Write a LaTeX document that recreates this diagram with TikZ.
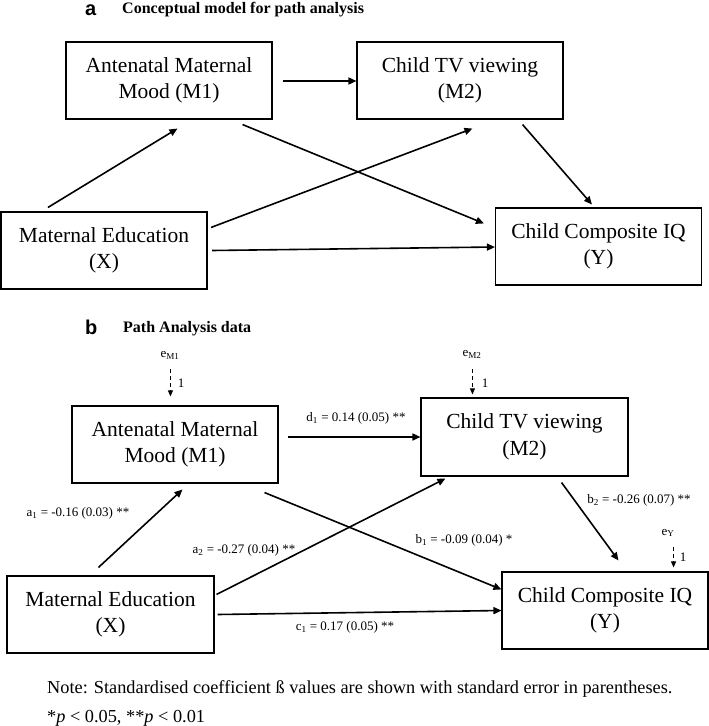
\documentclass[tikz,border=0pt]{standalone}
\usepackage{fontspec}
\setmainfont{Liberation Serif}
\newfontfamily\headsans{Liberation Sans}
\usetikzlibrary{arrows.meta,calc}
\tikzset{
  box/.style={draw, line width=1.1pt, minimum width=206pt, minimum height=77pt, inner sep=0pt, align=center, font=\fontsize{21.5}{26.5}\selectfont},
  conn/.style={line width=1.6pt, -{Triangle[length=8pt,width=7pt]}},
  errarrow/.style={line width=0.9pt, dash pattern=on 4pt off 3pt, -{Triangle[length=6pt,width=5pt]}},
  lbl/.style={font=\fontsize{13}{15}\selectfont, inner sep=0pt},
  panellet/.style={font=\headsans\bfseries\fontsize{20}{22}\selectfont, inner sep=0pt},
  paneltitle/.style={font=\bfseries\fontsize{16}{18}\selectfont, inner sep=0pt},
  notetext/.style={font=\fontsize{18.3}{21}\selectfont, inner sep=0pt, anchor=west}
}
\begin{document}
\begin{tikzpicture}[x=1pt,y=-1pt]
\useasboundingbox (0,0) rectangle (709,726);
% ---------- panel a ----------
\node[panellet, anchor=base west] (la) at (85,15.5) {a};
\node[paneltitle, anchor=base west] (ta) at (122,13.5) {Conceptual model for path analysis};
\node[box] (Ma) at (169,80.5) {Antenatal Maternal\\Mood (M1)};
\node[box] (Ta) at (460,80.5) {Child TV viewing\\(M2)};
\node[box] (Xa) at (104,250.5) {Maternal Education\\(X)};
\node[box] (Ya) at (598.5,246.5) {Child Composite IQ\\(Y)};
\draw[conn] ($(Ma.east)+(10,0.5)$) -- ($(Ta.west)+(0,0.5)$);
\draw[conn] ($(Xa.north west)+(47.5,-4)$) -- ($(Ma.south west)+(112,9)$);
\draw[conn] ($(Ma.south east)+(-30,5)$) -- ($(Ya.north west)+(-11,16)$);
\draw[conn] ($(Xa.north east)+(3.5,16)$) -- ($(Ta.south west)+(116,9)$);
\draw[conn] ($(Ta.south east)+(-41,5)$) -- ($(Ya.north west)+(97,-3)$);
\draw[conn] ($(Xa.east)+(4.5,0)$) -- ($(Ya.west)+(0,0.5)$);
% ---------- panel b ----------
\node[panellet, anchor=base west] (lb) at (85,334) {b};
\node[paneltitle, anchor=base west] (tb) at (123,332) {Path Analysis data};
\node[box] (Mb) at (175,444.5) {Antenatal Maternal\\Mood (M1)};
\node[box, minimum width=207pt, minimum height=78pt] (Tb) at (524.5,437) {Child TV viewing\\(M2)};
\node[box, minimum width=207pt] (Xb) at (110.5,614.5) {Maternal Education\\(X)};
\node[box] (Yb) at (605,610.5) {Child Composite IQ\\(Y)};
% error terms
\node[lbl] (eM1) at (170,355) {e\textsubscript{M1}};
\node[lbl] (eM2) at (472,354) {e\textsubscript{M2}};
\node[lbl] (eY) at (668,533) {e\textsubscript{Y}};
\draw[errarrow] ($(Mb.north west)+(99,-36)$) -- ($(Mb.north west)+(99,-9)$);
\draw[errarrow] ($(Tb.north west)+(52,-28)$) -- ($(Tb.north west)+(52,-3)$);
\draw[errarrow] ($(Yb.north east)+(-35,-24)$) -- ($(Yb.north east)+(-35,-4)$);
\node[lbl] (oneM1) at (181,383) {1};
\node[lbl] (oneM2) at (485,383) {1};
\node[lbl] (oneY) at (683,557) {1};
% paths
\draw[conn] ($(Mb.east)+(9,-7.5)$) -- (Tb.west);
\draw[conn] ($(Xb.north west)+(92,-8)$) -- ($(Mb.south west)+(111,6)$);
\draw[conn] ($(Xb.north east)+(2,19)$) -- ($(Tb.south west)+(25,2)$);
\draw[conn] ($(Mb.south east)+(-14,9)$) -- ($(Yb.north west)+(0,18)$);
\draw[conn] ($(Tb.south east)+(-67,6)$) -- ($(Yb.north west)+(117,-11)$);
\draw[conn] ($(Xb.east)+(3,0)$) -- (Yb.west);
% path labels
\node[lbl] (d1) at (356,418) {d\textsubscript{1} = 0.14 (0.05) **};
\node[lbl] (a1) at (78,513) {a\textsubscript{1} = -0.16 (0.03) **};
\node[lbl] (a2) at (244,550) {a\textsubscript{2} = -0.27 (0.04) **};
\node[lbl] (b1) at (464,540) {b\textsubscript{1} = -0.09 (0.04) *};
\node[lbl] (b2) at (639,500) {b\textsubscript{2} = -0.26 (0.07) **};
\node[lbl] (c1) at (345,627) {c\textsubscript{1} = 0.17 (0.05) **};
% note
\node[notetext] (note1) at (47,689) {Note: Standardised coefficient ß values are shown with standard error in parentheses.};
\node[notetext] (note2) at (47,718) {*\textit{p} < 0.05, **\textit{p} < 0.01};
\end{tikzpicture}
\end{document}
